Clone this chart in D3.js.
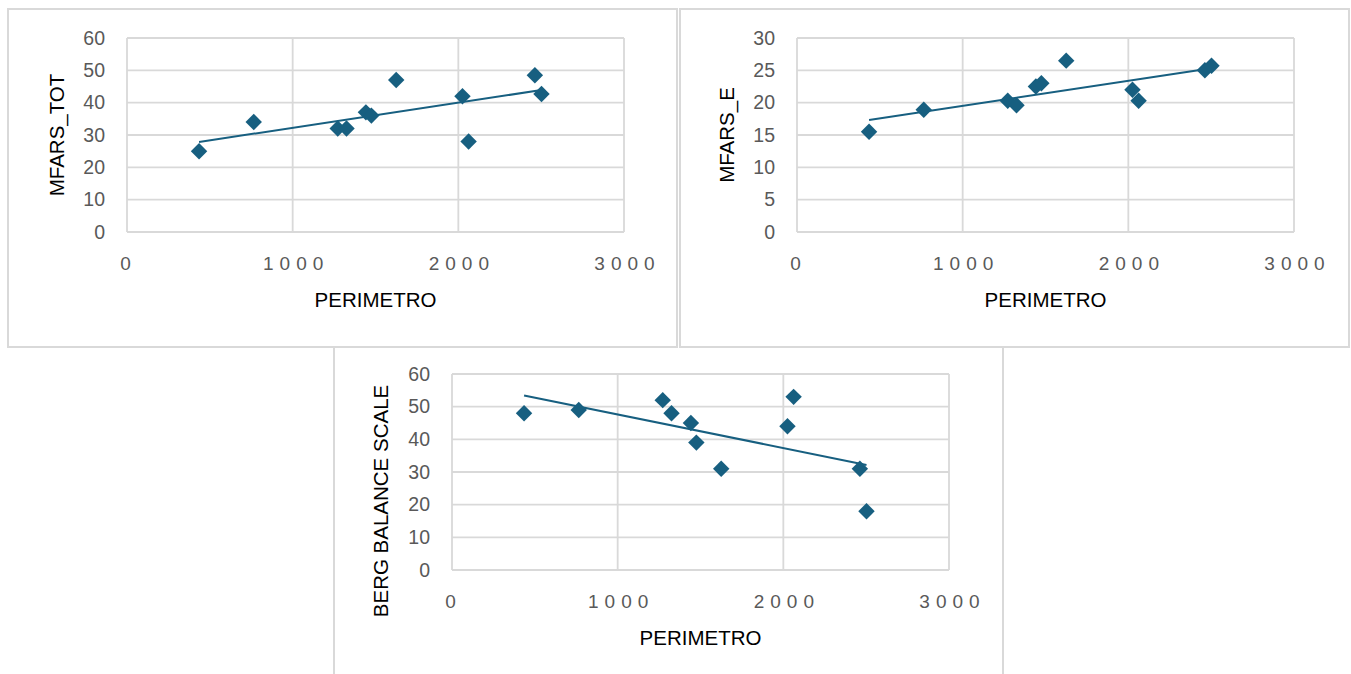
<!DOCTYPE html>
<html>
<head>
<meta charset="utf-8">
<script src="https://cdn.jsdelivr.net/npm/d3@7"></script>
<style>
  html, body { margin: 0; padding: 0; background: #ffffff; }
  svg { display: block; }
</style>
</head>
<body>
<svg id="chart" width="1351" height="674"></svg>
<script>
// ---- data ----
const perimetro = [435, 765, 1272, 1325, 1442, 1475, 1625, 2025, 2062, 2462, 2502];
const mfarsTot  = [25, 34, 32, 32, 37, 36, 47, 42, 28, 48.5, 42.7];
const mfarsE    = [15.5, 18.9, 20.3, 19.6, 22.5, 23, 26.5, 22, 20.3, 25, 25.7];
const bergBalance = [48, 49, 52, 48, 45, 39, 31, 44, 53, 31, 18];

const xTicks = [0, 1000, 2000, 3000];
const yTicksTot = [0, 10, 20, 30, 40, 50, 60];
const yTicksE = [0, 5, 10, 15, 20, 25, 30];
const yTicksBerg = [0, 10, 20, 30, 40, 50, 60];

const xTitle = "PERIMETRO";
const yTitles = ["MFARS_TOT", "MFARS_E", "BERG BALANCE SCALE"];

// ---- styles ----
const markColor = "#175f80";
const gridColor = "#d9d9d9";
const tickColor = "#595959";
const fontFam = "'Liberation Sans', Arial, sans-serif";

const svg = d3.select("#chart");

// panel frames
const frames = [
  {x: 8, y: 9, w: 669, h: 338},
  {x: 680, y: 9, w: 669, h: 338},
];
frames.forEach(f => {
  svg.append("rect").attr("x", f.x).attr("y", f.y).attr("width", f.w).attr("height", f.h)
    .attr("fill", "none").attr("stroke", gridColor).attr("stroke-width", 2);
});
svg.append("path")
  .attr("d", "M334,347 L334,674 M1003,347 L1003,674")
  .attr("fill", "none").attr("stroke", gridColor).attr("stroke-width", 2);

function linreg(xs, ys) {
  const n = xs.length;
  const mx = d3.mean(xs), my = d3.mean(ys);
  let sxy = 0, sxx = 0;
  for (let i = 0; i < n; i++) { sxy += (xs[i]-mx)*(ys[i]-my); sxx += (xs[i]-mx)*(xs[i]-mx); }
  const b = sxy / sxx;
  return {a: my - b*mx, b};
}

function drawPanel(opt) {
  const {left, top, width, height, yMax, yTicks, values, yTitle, yTitleX, yTitleY} = opt;
  const g = svg.append("g");
  const x = d3.scaleLinear().domain([0, 3000]).range([left, left + width]);
  const y = d3.scaleLinear().domain([0, yMax]).range([top + height, top]);

  g.append("g").selectAll("line").data(yTicks).join("line")
    .attr("x1", left).attr("x2", left + width)
    .attr("y1", d => y(d)).attr("y2", d => y(d))
    .attr("stroke", gridColor).attr("stroke-width", 1.8);
  g.append("g").selectAll("line").data(xTicks).join("line")
    .attr("y1", top).attr("y2", top + height)
    .attr("x1", d => x(d)).attr("x2", d => x(d))
    .attr("stroke", gridColor).attr("stroke-width", 1.8);

  const yAxis = d3.axisLeft(y).tickValues(yTicks).tickSize(0).tickPadding(22);
  const ya = g.append("g").attr("transform", `translate(${left},0)`).call(yAxis);
  ya.select(".domain").remove();
  ya.selectAll("text").attr("fill", tickColor).attr("font-size", 19.5)
    .attr("font-family", fontFam);

  const xAxis = d3.axisBottom(x).tickValues(xTicks).tickSize(0).tickPadding(25)
    .tickFormat(d3.format("d"));
  const xa = g.append("g").attr("transform", `translate(0,${top + height})`).call(xAxis);
  xa.select(".domain").remove();
  xa.selectAll("text").attr("fill", tickColor).attr("font-size", 19)
    .attr("font-family", fontFam).attr("letter-spacing", "6px")
    .attr("dx", d => d === 0 ? "1px" : "3px");

  g.append("text").attr("x", left + width / 2).attr("y", top + height + 75)
    .attr("text-anchor", "middle").attr("font-size", 20.5).attr("font-family", fontFam)
    .attr("fill", "#000").text(xTitle);

  g.append("text").attr("transform", `translate(${yTitleX},${yTitleY}) rotate(-90)`)
    .attr("text-anchor", "middle").attr("dominant-baseline", "middle")
    .attr("font-size", 20.5).attr("font-family", fontFam).attr("fill", "#000").text(yTitle);

  const r = linreg(perimetro, values);
  const x0 = d3.min(perimetro), x1 = d3.max(perimetro);
  g.append("line")
    .attr("x1", x(x0)).attr("y1", y(r.a + r.b*x0))
    .attr("x2", x(x1)).attr("y2", y(r.a + r.b*x1))
    .attr("stroke", markColor).attr("stroke-width", 2);

  const diamond = d3.symbol().type(d3.symbolSquare).size(135);
  g.append("g").selectAll("path").data(perimetro.map((p, i) => [p, values[i]])).join("path")
    .attr("d", diamond)
    .attr("transform", d => `translate(${x(d[0])},${y(d[1])}) rotate(45)`)
    .attr("fill", markColor);
}

drawPanel({left: 127, top: 38, width: 497, height: 194, yMax: 60, yTicks: yTicksTot,
  values: mfarsTot, yTitle: yTitles[0], yTitleX: 59, yTitleY: 135});
drawPanel({left: 797, top: 38, width: 497, height: 194, yMax: 30, yTicks: yTicksE,
  values: mfarsE, yTitle: yTitles[1], yTitleX: 729, yTitleY: 135});
drawPanel({left: 452, top: 374, width: 497, height: 196, yMax: 60, yTicks: yTicksBerg,
  values: bergBalance, yTitle: yTitles[2], yTitleX: 383, yTitleY: 501});
</script>
</body>
</html>
